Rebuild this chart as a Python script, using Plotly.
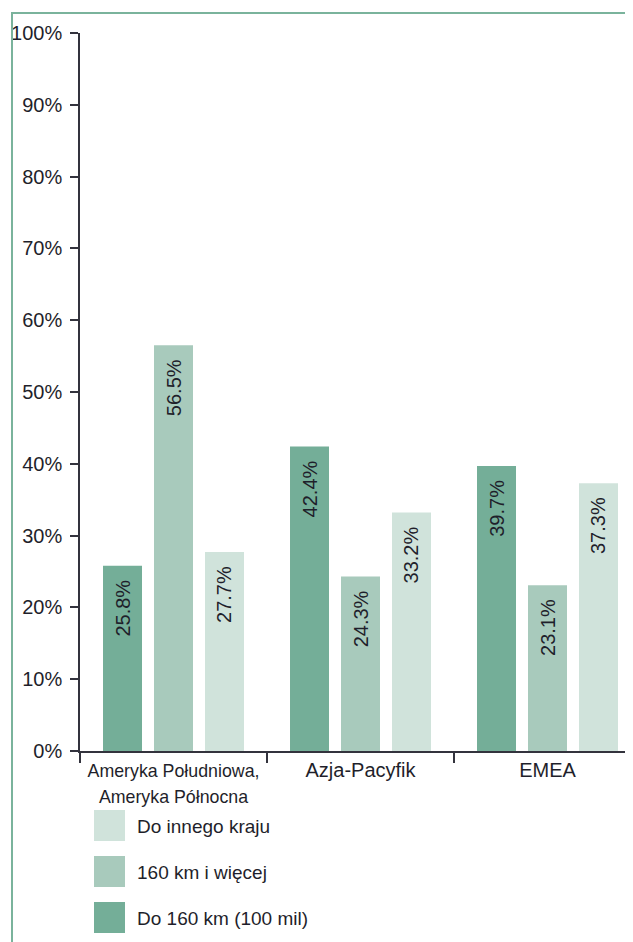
import plotly.graph_objects as go

categories = ["Ameryka Południowa, Ameryka Północna", "Azja-Pacyfik", "EMEA"]
tick_labels = ['<span style="font-size:17.8px">Ameryka Południowa,<br>Ameryka Północna</span>',
               "Azja-Pacyfik", "EMEA"]
series_names = ["Do 160 km (100 mil)", "160 km i więcej", "Do innego kraju"]
do_160 = [25.8, 42.4, 39.7]
ponad_160 = [56.5, 24.3, 23.1]
inny_kraj = [27.7, 33.2, 37.3]
series_values = [do_160, ponad_160, inny_kraj]
colors = ["#74ae98", "#a8cabc", "#d0e3db"]
y_ticks = [0, 10, 20, 30, 40, 50, 60, 70, 80, 90, 100]

W, H = 633, 942
OFF = 8  # page body margin
L, R, T, B = 72, 0, 25, 199
FONT = "Liberation Sans, Arial, Helvetica, sans-serif"
TXT = "#1f1f2b"

fig = go.Figure()
for name, vals, col in zip(series_names, series_values, colors):
    fig.add_trace(go.Bar(
        x=categories, y=vals, name=name, marker=dict(color=col, line=dict(width=0)),
        texttemplate="%{y:.1f}%\u00a0\u00a0", textposition="inside", insidetextanchor="end",
        textangle=-90, textfont=dict(size=20, color=TXT, family=FONT),
        constraintext="none", showlegend=False, hoverinfo="skip"))

pw, ph = W - L - R, H - T - B
def px_x(px):  # page pixel -> paper
    return (px - OFF - L) / pw
def px_y(py):
    return (H - B - (py - OFF)) / ph

shapes = [
    dict(type="line", xref="paper", yref="paper", x0=px_x(12), x1=px_x(12),
         y0=px_y(13), y1=px_y(H + 10), line=dict(color="#7ab39c", width=2)),
    dict(type="line", xref="paper", yref="paper", x0=px_x(11), x1=px_x(W + 10),
         y0=px_y(13), y1=px_y(13), line=dict(color="#7ab39c", width=2)),
]
annotations = []
# custom legend (top: lightest)
for i, (name, col) in enumerate(zip(series_names[::-1], colors[::-1])):
    top = 810 + i * 46
    shapes.append(dict(type="rect", xref="paper", yref="paper",
                       x0=px_x(94), x1=px_x(125), y0=px_y(top), y1=px_y(top + 31),
                       fillcolor=col, line=dict(width=0)))
    annotations.append(dict(xref="paper", yref="paper", x=px_x(135), y=px_y(top + 16),
                            text=name, showarrow=False, xanchor="left", yanchor="middle",
                            font=dict(size=19, color=TXT, family=FONT)))

n = len(categories)
fig.update_layout(
    width=W, height=H, margin=dict(l=L, r=R, t=T, b=B),
    paper_bgcolor="white", plot_bgcolor="white",
    barmode="group", bargap=0.182, bargroupgap=0.235,
    font=dict(family=FONT, color=TXT, size=20),
    shapes=shapes, annotations=annotations, showlegend=False,
    xaxis=dict(type="category", tickmode="array", tickvals=categories, ticktext=tick_labels,
               range=[-0.5, n - 0.5], tickson="boundaries", ticks="outside",
               ticklen=10, tickwidth=1.5, tickcolor="#33333d", showline=True,
               linecolor="#33333d", linewidth=1.5, showgrid=False, zeroline=False,
               tickfont=dict(size=20, color=TXT, family=FONT)),
    yaxis=dict(range=[0, 100], tickmode="array", tickvals=y_ticks,
               ticktext=[f"{v}%" for v in y_ticks], ticks="outside", ticklen=8,
               tickwidth=1.5, tickcolor="#33333d", showline=True, linecolor="#33333d",
               linewidth=1.5, showgrid=False, zeroline=False, ticklabelstandoff=4,
               tickfont=dict(size=20, color=TXT, family=FONT)),
)
fig.write_html("out.html")
